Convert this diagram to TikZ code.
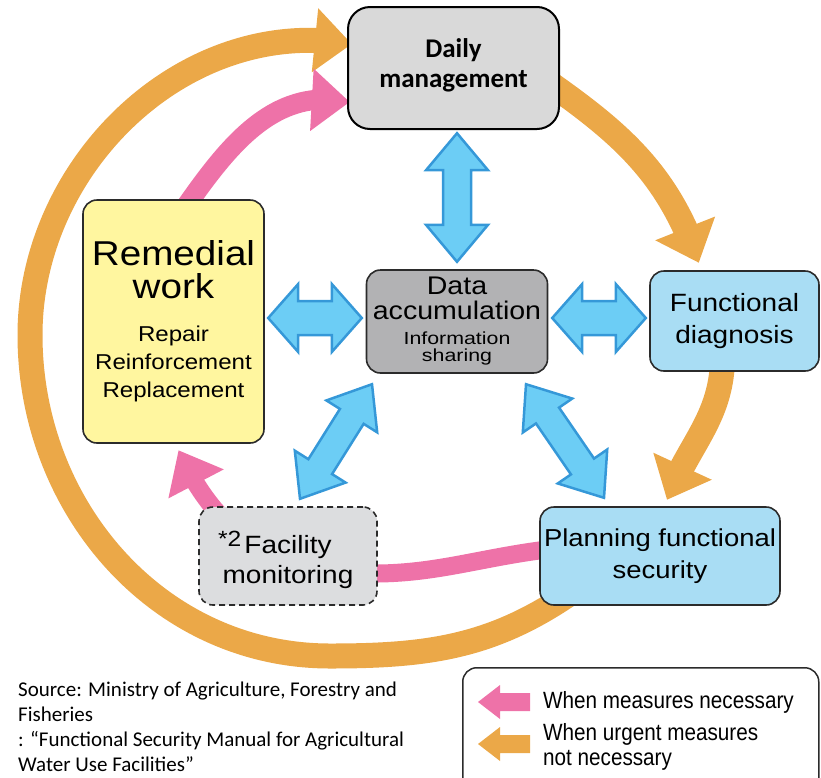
\documentclass[tikz,border=0pt]{standalone}
\usepackage{fontspec}
\setmainfont{Liberation Sans}
\newfontfamily\jgfont[FakeStretch=1.12]{Liberation Sans}
\newfontfamily\jgwide[FakeStretch=1.22]{Liberation Sans}
\newfontfamily\narfont[FakeStretch=0.88]{Liberation Sans}
\newfontfamily\calfont{Carlito}
\usetikzlibrary{arrows.meta,calc,bending}
\definecolor{orng}{HTML}{EBA848}
\definecolor{pnk}{HTML}{EE72A8}
\definecolor{bfill}{HTML}{6CCDF5}
\definecolor{bline}{HTML}{3598D8}
\definecolor{ylw}{HTML}{FFF69F}
\definecolor{lblue}{HTML}{A9DDF4}
\definecolor{dgray}{HTML}{B2B2B4}
\definecolor{lgray}{HTML}{D9D9D9}
\definecolor{mgray}{HTML}{DCDDDF}
\definecolor{bordr}{HTML}{2B2B2B}
\newcommand\fatarrow[5]{%
  \draw[fatarr] let \p1=($(#2)-(#1)$), \n1={atan2(\y1,\x1)} in
  (#1) -- ($(#1)+(\n1:#5)+(\n1+90:#4)$) -- ($(#1)+(\n1:#5)+(\n1+90:#3)$)
  -- ($(#2)+(\n1:-#5)+(\n1+90:#3)$) -- ($(#2)+(\n1:-#5)+(\n1+90:#4)$)
  -- (#2) -- ($(#2)+(\n1:-#5)+(\n1-90:#4)$) -- ($(#2)+(\n1:-#5)+(\n1-90:#3)$)
  -- ($(#1)+(\n1:#5)+(\n1-90:#3)$) -- ($(#1)+(\n1:#5)+(\n1-90:#4)$) -- cycle;}
\newcommand\smalltxt[1]{{\fontsize{21.5}{21.5}\selectfont #1}}
\newcommand\infotxt[1]{{\jgwide\fontsize{17.5}{17.5}\selectfont #1}}
\tikzset{
  place/.style={inner sep=0pt, rounded corners=14pt},
  box/.style={draw=bordr, line width=1.6pt, rounded corners=14pt, inner sep=0pt,
    align=center, font=\jgfont, text=black},
  txt/.style={inner sep=0pt, align=center, text=black},
  ornarr/.style={draw=orng, line width=25pt, -{Triangle[width=62pt,length=37pt]}},
  pnkarr/.style={draw=pnk, line width=20pt, -{Triangle[width=60pt,length=38pt]}},
  fatarr/.style={fill=bfill, draw=bline, line width=2.5pt, line join=miter},
}
\begin{document}
\begin{tikzpicture}[x=1pt,y=1pt]
\useasboundingbox (0,0) rectangle (821,-777);
\clip (0,0) rectangle (821,-777);

% box positions (not drawn here)
\path
  node[place, minimum width=211pt, minimum height=122pt] (daily) at (453.5,-68) {}
  node[place, minimum width=181pt, minimum height=103pt] (data) at (457,-321.5) {}
  node[place, minimum width=181pt, minimum height=243pt] (rem) at (173.5,-321.5) {}
  node[place, minimum width=169pt, minimum height=100pt] (func) at (734.5,-321) {}
  node[place, minimum width=240pt, minimum height=98pt] (plan) at (660,-556) {}
  node[place, minimum width=178pt, minimum height=98pt] (fac) at (288,-556) {};

\coordinate (ringb) at (330,-656);
\coordinate (ringl) at (30,-335);
\coordinate (pk1) at (340,-572);

% orange ring
\draw[ornarr] ($(plan.south west)+(35,15)$) to[out=215,in=0] (ringb)
  to[out=180,in=-90] (ringl) to[out=90,in=170] ($(daily.west)+(4,24)$);
% orange right arcs
\draw[ornarr] ($(daily.east)+(-14,-12)$) to[out=-35,in=109] ($(func.north west)+(49,8)$);
\draw[ornarr] ($(func.south)+(-12,10)$) to[out=-92,in=69] ($(plan.north)+(7,7)$);
% pink arcs
\draw[pnkarr] ($(rem.north)+(10,-10)$) to[out=55,in=168] ($(daily.west)+(2,-34)$);
\draw[pnkarr, line width=18pt] ($(plan.west)+(20,8)$) to[out=186,in=-5] (pk1)
  to[out=175,in=-66] ($(rem.south)+(5,-7)$);

% boxes on top
\node[box, fill=lgray, draw=black, line width=2pt, minimum width=211pt, minimum height=122pt,
  rounded corners=22pt] (dailybox) at (daily) {};
\node[txt, font=\calfont\bfseries\fontsize{27}{30}\selectfont] (dailytxt) at ($(daily)+(0,3)$) {Daily\\management};
\node[box, fill=dgray, minimum width=181pt, minimum height=103pt,
  font=\jgfont\fontsize{25.5}{25}\selectfont] (databox) at (data)
  {Data\\accumulation\\[0pt]\infotxt{Information}\\[-8pt]\infotxt{sharing}};
\node[box, fill=ylw, minimum width=181pt, minimum height=243pt,
  font=\jgfont\fontsize{34.5}{33}\selectfont] (rembox) at (rem)
  {Remedial\\work\\[10pt]\smalltxt{Repair}\\[-5pt]\smalltxt{Reinforcement}\\[-5pt]\smalltxt{Replacement}};
\node[box, fill=lblue, minimum width=169pt, minimum height=100pt,
  font=\jgfont\fontsize{25}{32}\selectfont] (funcbox) at (func) {Functional\\diagnosis};
\node[box, fill=lblue, minimum width=240pt, minimum height=98pt,
  font=\jgfont\fontsize{24.5}{32}\selectfont] (planbox) at (plan) {Planning functional\\security};
\node[box, fill=mgray, dash pattern=on 6pt off 4pt, minimum width=178pt, minimum height=98pt] (facbox) at (fac) {};
\node[txt, font=\jgfont\fontsize{25}{30}\selectfont] (factxt) at ($(fac)+(0,-4)$)
  {\llap{\raisebox{7pt}{\fontsize{22}{22}\selectfont *2}\kern3pt}Facility\\monitoring};

% blue double arrows
\coordinate (v1) at ($(daily.south)+(3.5,-4)$);
\coordinate (v2) at ($(data.north)+(0,8)$);
\coordinate (h1) at ($(rem.east)+(4,3.5)$);
\coordinate (h2) at ($(data.west)+(-4.5,3.5)$);
\coordinate (h3) at ($(data.east)+(4.5,3.5)$);
\coordinate (h4) at ($(func.west)+(-4,3)$);
\coordinate (d1) at ($(data.south)+(-85,-11)$);
\coordinate (d2) at ($(fac.north)+(12,8)$);
\coordinate (d3) at ($(data.south)+(69,-11)$);
\coordinate (d4) at ($(plan.north)+(-56,9)$);
\fatarrow{v1}{v2}{14pt}{31pt}{37pt}
\fatarrow{h1}{h2}{17pt}{34pt}{30pt}
\fatarrow{h3}{h4}{17pt}{34pt}{30pt}
\fatarrow{d1}{d2}{14pt}{30pt}{38pt}
\fatarrow{d3}{d4}{14pt}{30pt}{38pt}

% source
\node[anchor=north west, align=left, inner sep=0pt, font=\calfont\fontsize{21}{25}\selectfont]
  (src) at (18,-682) {Source: Ministry of Agriculture, Forestry and\\Fisheries\\: “Functional Security Manual for Agricultural\\Water Use Facilities”};

% legend
\node[draw=bordr, line width=1.5pt, rounded corners=14pt, minimum width=356pt, minimum height=140pt,
  anchor=north west, inner sep=0pt] (legend) at (462,-667) {};
\coordinate (lp) at ($(legend.north west)+(16,-35)$);
\coordinate (lo) at ($(legend.north west)+(16,-77)$);
\fill[pnk] (lp) -- ++(22,17) -- ++(0,-8) -- ++(30,0) -- ++(0,-18) -- ++(-30,0) -- ++(0,-8) -- cycle;
\fill[orng] (lo) -- ++(22,17) -- ++(0,-8) -- ++(30,0) -- ++(0,-18) -- ++(-30,0) -- ++(0,-8) -- cycle;
\node[anchor=base west, inner sep=0pt, font=\narfont\fontsize{23.5}{28}\selectfont] (lt1) at (543,-708) {When measures necessary};
\node[anchor=base west, inner sep=0pt, font=\narfont\fontsize{23.5}{28}\selectfont] (lt2) at (543,-740) {When urgent measures};
\node[anchor=base west, inner sep=0pt, font=\narfont\fontsize{23.5}{28}\selectfont] (lt3) at (543,-765) {not necessary};
\end{tikzpicture}
\end{document}
